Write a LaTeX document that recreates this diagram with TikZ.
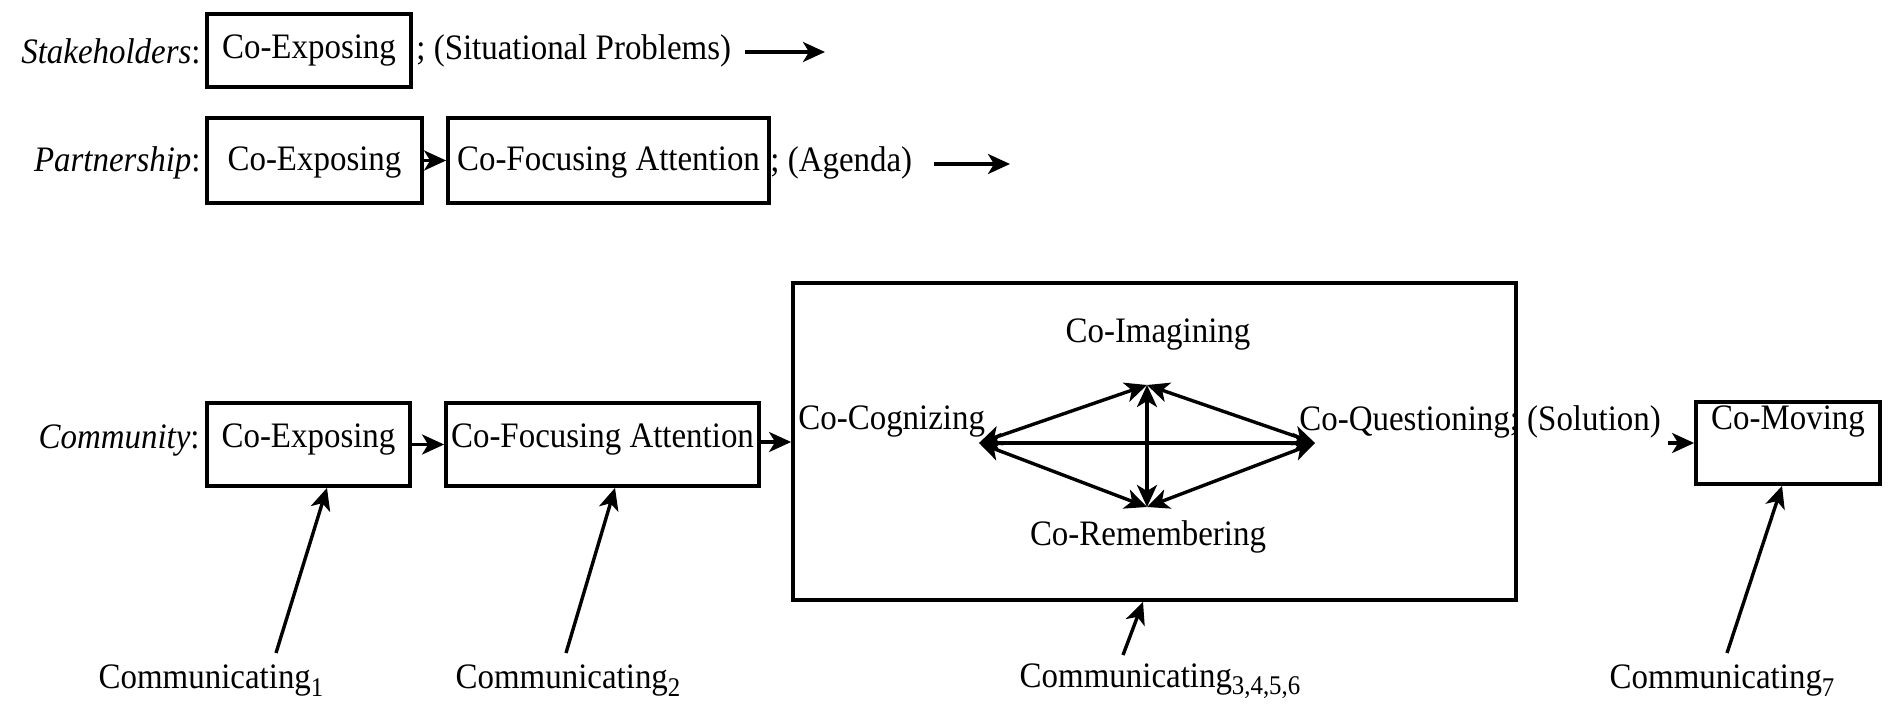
\documentclass[tikz,border=0pt]{standalone}
\usepackage{fontspec}
\setmainfont[FakeStretch=0.92]{Liberation Serif}
\usetikzlibrary{arrows.meta}
\newcommand{\subidx}[1]{\raisebox{-0.45ex}{\fontsize{13.5}{14}\selectfont #1}}
\begin{document}
\begin{tikzpicture}[x=0.5pt,y=-0.5pt,
  every node/.style={font=\fontsize{17.9}{21}\selectfont, inner sep=0pt},
  box/.style={draw, line width=1.9pt, minimum width=#1, inner sep=0pt},
  arr/.style={line width=1.7pt, -{Stealth[length=11pt,width=10pt,inset=3pt]}},
  darr/.style={line width=1.7pt, {Stealth[length=11pt,width=10pt,inset=3pt]}-{Stealth[length=11pt,width=10pt,inset=3pt]}},
  lbl/.style={anchor=east}]
\useasboundingbox (0,0) rectangle (1889,711);
% Row 1
\node[lbl] (sh) at (201,51) {\textit{Stakeholders}:};
\node[box=102pt, minimum height=36.5pt] (s1) at (309,50.5) {};
\node (s1t) at (309,51) {Co-Exposing};
\node[anchor=west] (s1r) at (416,51) {; (Situational Problems)};
\coordinate (s1a) at (745,52);
\coordinate (s1e) at (825,52);
\draw[arr] (s1a) -- (s1e);
% Row 2
\node[lbl] (pa) at (201,163) {\textit{Partnership}:};
\node[box=107.5pt, minimum height=42.5pt] (p1) at (314.5,160.5) {};
\node (p1t) at (314.5,163) {Co-Exposing};
\node[box=160.5pt, minimum height=42.5pt] (p2) at (608.5,160.5) {};
\node (p2t) at (608.5,163) {Co-Focusing Attention};
\node[anchor=west] (p2r) at (770,163) {; (Agenda)};
\coordinate (p2a) at (934,164);
\coordinate (p2e) at (1010,164);
\draw[arr] (p1.east) -- (p2.west);
\draw[arr] (p2a) -- (p2e);
% Row 3
\node[lbl] (co) at (200,441) {\textit{Community}:};
\node[box=101.5pt, minimum height=41.5pt] (c1) at (308.5,444.5) {};
\node (c1t) at (308.5,440) {Co-Exposing};
\node[box=156.5pt, minimum height=41.5pt] (c2) at (602.5,444.5) {};
\node (c2t) at (602.5,440) {Co-Focusing Attention};
\node[box=361.5pt, minimum height=158.5pt] (big) at (1154.5,441.5) {};
\draw[arr] (c1.east) -- (c2.west);
\coordinate (c2m) at (759,442);
\draw[arr] (c2m) -- (c2m -| big.west);
% inner diamond
\node (im) at (1158,335) {Co-Imagining};
\node[anchor=west] (cg) at (798,422) {Co-Cognizing};
\node[anchor=west] (qs) at (1299,422) {Co-Questioning; (Solution)};
\node (rm) at (1148,537) {Co-Remembering};
\coordinate (L) at (979,443);
\coordinate (T) at (1147,385);
\coordinate (B) at (1147,507);
\coordinate (R) at (1315,443);
\draw[darr] (L) -- (T);
\draw[darr] (T) -- (R);
\draw[darr] (L) -- (B);
\draw[darr] (B) -- (R);
\draw[darr] (L) -- (R);
\draw[darr] (T) -- (B);
% Co-Moving
\node[box=92pt, minimum height=41pt] (cm) at (1788,443) {};
\node (cmt) at (1788,422) {Co-Moving};
\coordinate (sa) at (1668,443);
\draw[arr] (sa) -- (cm.west);
% Communicating labels
\node (k1) at (211,681) {Communicating\subidx{1}};
\node (k2) at (568,681) {Communicating\subidx{2}};
\node (k3) at (1160,681) {Communicating\subidx{3,4,5,6}};
\node (k7) at (1722,681) {Communicating\subidx{7}};
\coordinate (k1s) at (276,653);
\coordinate (k2s) at (566,653);
\coordinate (k3s) at (1123,655);
\coordinate (k7s) at (1727,653);
\coordinate (x1) at (327,0);
\coordinate (x2) at (615,0);
\coordinate (x3) at (1143,0);
\coordinate (x7) at (1782,0);
\draw[arr] (k1s) -- (x1 |- c1.south);
\draw[arr] (k2s) -- (x2 |- c2.south);
\draw[arr] (k3s) -- (x3 |- big.south);
\draw[arr] (k7s) -- (x7 |- cm.south);
\end{tikzpicture}
\end{document}
